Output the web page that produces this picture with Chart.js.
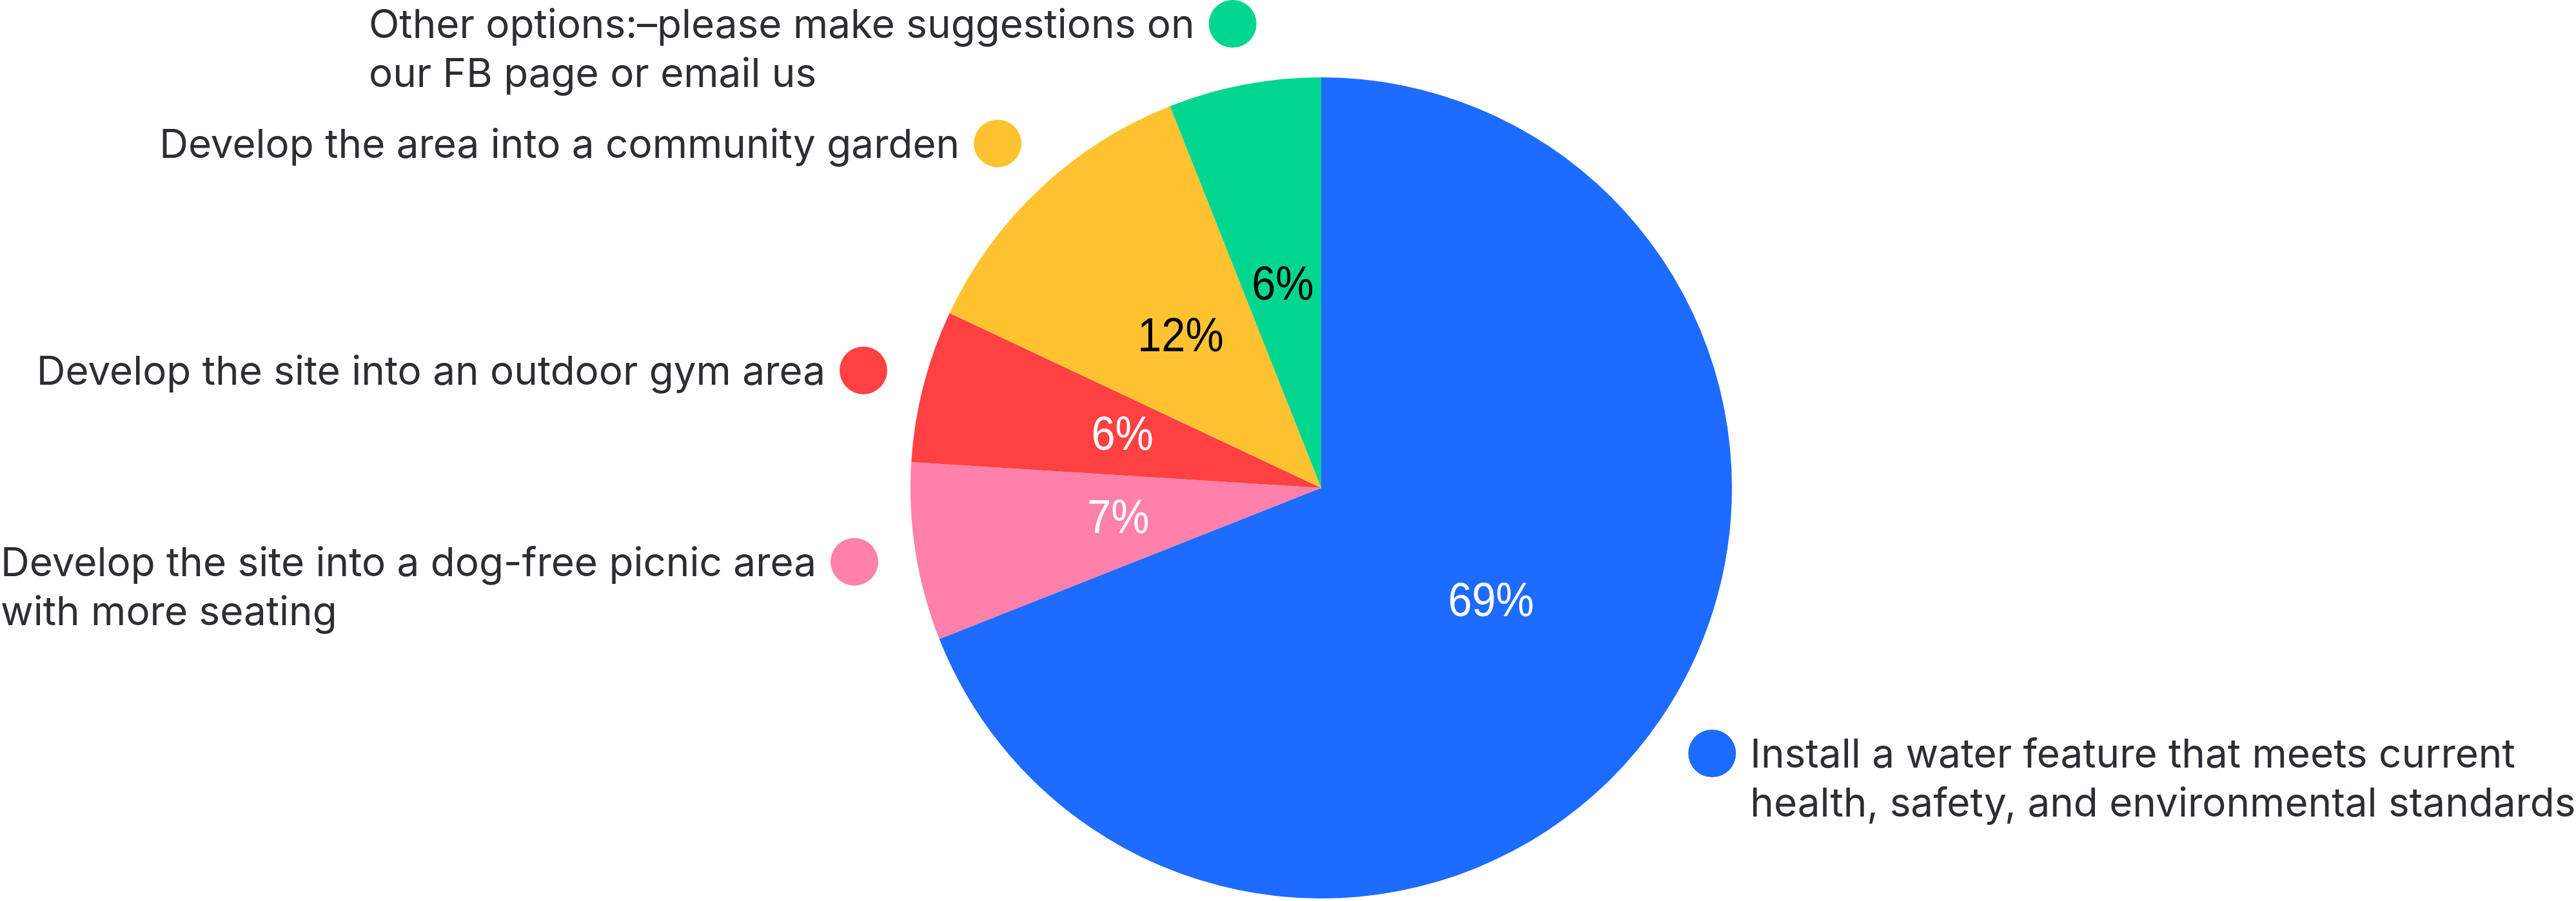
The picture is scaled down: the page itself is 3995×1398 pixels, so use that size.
<!DOCTYPE html>
<html>
<head>
<meta charset="utf-8">
<style>
    html, body { margin: 0; padding: 0; background: #ffffff; }
    canvas { display: block; }
</style>
<script src="https://cdn.jsdelivr.net/npm/chart.js"></script>
</head>
<body>
<canvas id="chart" width="3995" height="1398"></canvas>
<script>
// answers, clockwise from 12 o'clock
const categories = [
    ['Install a water feature that meets current', 'health, safety, and environmental standards'],
    ['Develop the site into a dog-free picnic area', 'with more seating'],
    ['Develop the site into an outdoor gym area'],
    ['Develop the area into a community garden'],
    ['Other options:\u2013please make suggestions on', 'our FB page or email us']
];
const values = [69, 7, 6, 12, 6];

const sliceColors = ['#1d6bff', '#ff80aa', '#ff4141', '#ffc332', '#00d68f'];
const percentColors = ['#ffffff', '#ffffff', '#ffffff', '#000000', '#000000'];

const labelFont = '400 62px Inter';
const labelSquash = 1.0;
const percentFont = '400 74px "Liberation Sans"';
const percentSquash = 0.9;

function drawText(ctx, text, x, y, align, squash) {
    ctx.save();
    ctx.translate(x, y);
    ctx.scale(squash, 1);
    ctx.textAlign = align;
    ctx.fillText(text, 0, 0);
    ctx.restore();
}

const calloutPlugin = {
    id: 'callouts',
    afterDatasetsDraw(chart) {
        const ctx = chart.ctx;
        const arcs = chart.getDatasetMeta(0).data;
        const total = values.reduce((a, b) => a + b, 0);

        arcs.forEach((arc, i) => {
            const mid = (arc.startAngle + arc.endAngle) / 2;
            const cos = Math.cos(mid);
            const sin = Math.sin(mid);
            const r = arc.outerRadius;

            // percentage inside the slice
            ctx.fillStyle = percentColors[i];
            ctx.font = percentFont;
            ctx.textBaseline = 'middle';
            drawText(ctx, Math.round(values[i] / total * 100) + '%',
                arc.x + cos * r * 0.5, arc.y + sin * r * 0.5, 'center', percentSquash);

            // coloured dot just outside the slice
            const dotR = 37;
            const dx = arc.x + cos * (r + 96);
            const dy = arc.y + sin * (r + 96);
            ctx.beginPath();
            ctx.arc(dx, dy, dotR, 0, Math.PI * 2);
            ctx.fillStyle = sliceColors[i];
            ctx.fill();

            // label block next to the dot, lines left aligned
            ctx.fillStyle = '#2d2d33';
            ctx.font = labelFont;
            ctx.textBaseline = 'alphabetic';
            const lines = categories[i];
            const blockW = Math.max(...lines.map(l => ctx.measureText(l).width)) * labelSquash;
            const tx = cos > 0 ? dx + dotR + 22 : dx - dotR - 22 - blockW;
            lines.forEach((line, j) => {
                drawText(ctx, line, tx, dy + 22 + j * 76, 'left', labelSquash);
            });
        });
    }
};

function drawChart() {
    const context = document.getElementById('chart');

    new Chart(context, {
        type: 'pie',
        data: {
            labels: categories.map(c => c.join(' ')),
            datasets: [{
                data: values,
                backgroundColor: sliceColors,
                borderWidth: 0
            }]
        },
        options: {
            responsive: false,
            devicePixelRatio: 1,
            animation: false,
            layout: {
                padding: { top: 120, bottom: 4, left: 1412, right: 1309 }
            },
            plugins: {
                legend: { display: false },
                tooltip: { enabled: false }
            }
        },
        plugins: [calloutPlugin]
    });
}

document.fonts.load(labelFont).then(drawChart, drawChart);
</script>
</body>
</html>
